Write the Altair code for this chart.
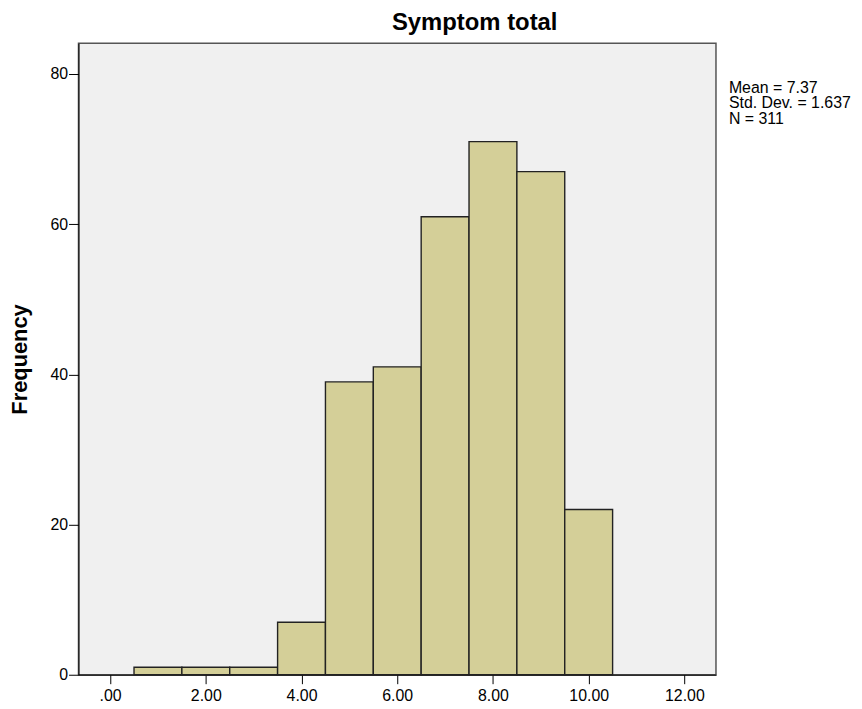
import altair as alt
import pandas as pd

bin_start = [0.5, 1.5, 2.5, 3.5, 4.5, 5.5, 6.5, 7.5, 8.5, 9.5]
bin_end = [1.5, 2.5, 3.5, 4.5, 5.5, 6.5, 7.5, 8.5, 9.5, 10.5]
counts = [1, 1, 1, 7, 39, 41, 61, 71, 67, 22]
x_ticks = [0, 2, 4, 6, 8, 10, 12]
y_ticks = [0, 20, 40, 60, 80]
stats_lines = ["Mean = 7.37", "Std. Dev. = 1.637", "N = 311"]
title_text = "Symptom total"
y_title = "Frequency"

df = pd.DataFrame({"start": bin_start, "end": bin_end, "count": counts})

FONT = "Liberation Sans"
W, H = 642, 636

bars = alt.Chart(df).mark_rect(
    fill="#d4cf98", stroke="#222222", strokeWidth=1.4, opacity=1
).encode(
    x=alt.X(
        "start:Q",
        scale=alt.Scale(domain=[-0.66, 12.66], nice=False, zero=False),
        axis=alt.Axis(
            values=x_ticks,
            labelExpr="datum.value == 0 ? '.00' : format(datum.value, '.2f')",
            title=None,
            grid=False,
            tickSize=9,
            tickColor="#000000",
            domainColor="#000000",
            labelFontSize=16,
            labelPadding=4,
            labelColor="#000000",
        ),
    ),
    x2="end:Q",
    y=alt.Y(
        "count:Q",
        scale=alt.Scale(domain=[0, 84.1], nice=False),
        axis=alt.Axis(
            values=y_ticks,
            title=y_title,
            grid=False,
            tickSize=10,
            tickColor="#000000",
            domainColor="#000000",
            labelFontSize=16,
            labelPadding=1,
            labelColor="#000000",
            titleFontSize=22,
            titleFontWeight="bold",
            titleColor="#000000",
            titlePadding=19,
        ),
    ),
    y2=alt.datum(0),
)

stats = alt.Chart(pd.DataFrame({"t": ["\n".join(stats_lines)]})).mark_text(
    align="left", baseline="alphabetic", fontSize=16, lineHeight=15.5,
    lineBreak="\n", color="#000000", font=FONT,
).encode(
    text="t:N",
    x=alt.value(W + 13),
    y=alt.value(50),
)

title = alt.Chart(pd.DataFrame({"t": [title_text]})).mark_text(
    align="center", baseline="alphabetic", fontSize=24, fontWeight="bold",
    color="#000000", font=FONT,
).encode(
    text="t:N",
    x=alt.value(W / 2 + 78),
    y=alt.value(-13),
)

chart = alt.layer(bars, stats, title).properties(
    width=W,
    height=H,
    autosize=alt.AutoSizeParams(type="none"),
    padding={"left": 71, "top": 33, "right": 139, "bottom": 30},
).configure(font=FONT).configure_view(
    fill="#f0f0f0", stroke="#555555", strokeWidth=1.5
).configure_axis(labelFont=FONT, titleFont=FONT)

chart.save("out.html", embed_options={"renderer": "svg", "actions": False})
